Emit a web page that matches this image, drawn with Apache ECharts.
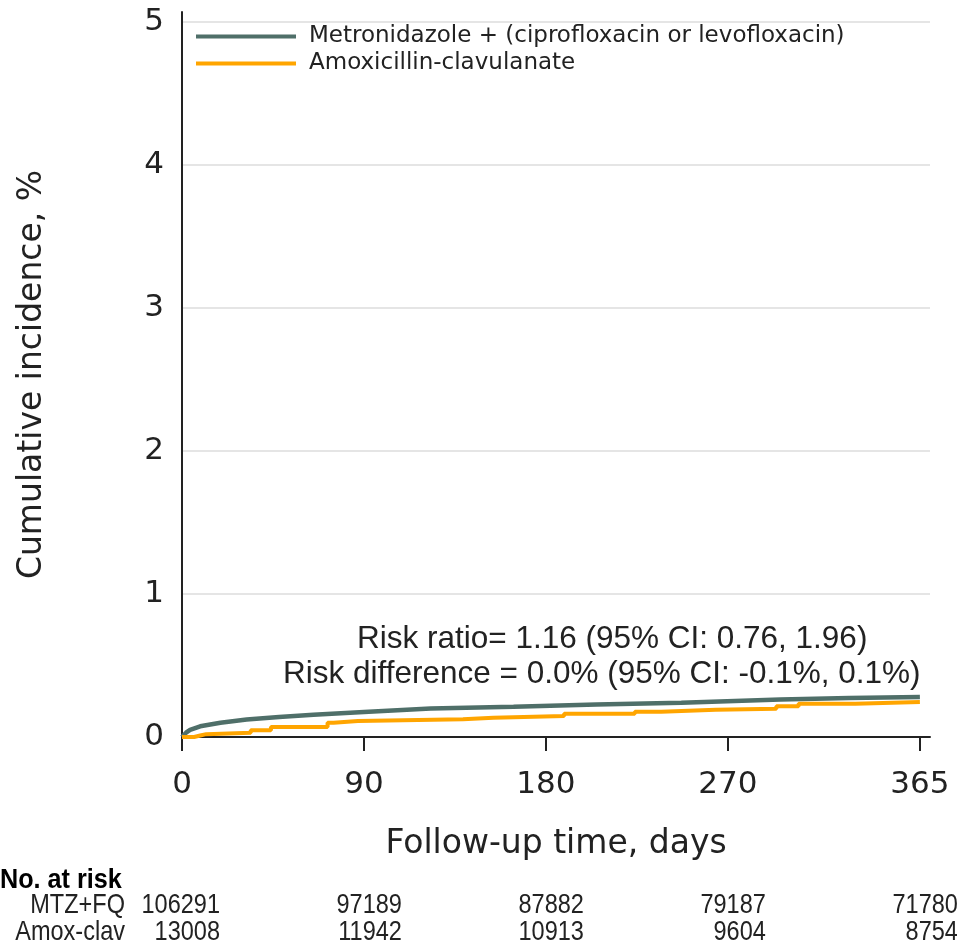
<!DOCTYPE html>
<html>
<head>
<meta charset="utf-8">
<script src="https://cdn.jsdelivr.net/npm/echarts@6/dist/echarts.min.js"></script>
<style>
  html, body { margin: 0; padding: 0; background: #fff; }
  #main { width: 957px; height: 944px; }
</style>
</head>
<body>
<div id="main"></div>
<script>
// cumulative incidence (%) by follow-up day
const mtzFq = [
  [0, 0], [2, 0.03], [4, 0.05], [9, 0.075], [19, 0.1], [32, 0.122], [48, 0.14],
  [65, 0.155], [90, 0.175], [123, 0.2], [164, 0.212], [205, 0.228], [247, 0.24],
  [296, 0.262], [330, 0.272], [365, 0.28]
];
const amoxClav = [
  [0, 0], [6, 0.01], [9, 0.02], [12, 0.03], [34, 0.047], [44, 0.07], [72, 0.1],
  [75, 0.112], [87, 0.124], [139, 0.135], [154, 0.147], [189, 0.163], [224, 0.177],
  [237, 0.19], [264, 0.197], [294, 0.215], [305, 0.232], [333, 0.245], [365, 0.245]
];
const seriesNames = ['Metronidazole + (ciprofloxacin or levofloxacin)', 'Amoxicillin-clavulanate'];
const xTicks = [0, 90, 180, 270, 365];
const riskRows = ['MTZ+FQ', 'Amox-clav'];
const riskMtzFq = [106291, 97189, 87882, 79187, 71780];
const riskAmoxClav = [13008, 11942, 10913, 9604, 8754];
const statLines = [
  'Risk ratio= 1.16 (95% CI: 0.76, 1.96)',
  'Risk difference = 0.0% (95% CI: -0.1%, 0.1%)'
];

const chartDom = document.getElementById('main');
const myChart = echarts.init(chartDom, null, { renderer: 'canvas' });
const font = 'DejaVu Sans';
const tableFont = '"Liberation Sans", Arial, sans-serif';

let option = {
  animation: false,
  color: ['#4f6f69', '#ffa500'],
  grid: { left: 182, right: 27, top: 12, bottom: 207 },
  legend: {
    orient: 'vertical',
    left: 196,
    top: 25,
    padding: 0,
    itemGap: 4,
    itemWidth: 100,
    itemHeight: 4,
    icon: 'rect',
    data: seriesNames,
    textStyle: { fontFamily: font, fontSize: 23, color: '#222', padding: [0, 0, 0, 8] }
  },
  xAxis: {
    type: 'value',
    min: 0,
    max: 370,
    interval: 90,
    name: 'Follow-up time, days',
    nameLocation: 'middle',
    nameGap: 91,
    nameTextStyle: { fontFamily: font, fontSize: 33, color: '#222' },
    axisLine: { lineStyle: { color: '#222', width: 2 } },
    axisTick: { show: true, length: 14, lineStyle: { color: '#222', width: 2 }, customValues: xTicks },
    axisLabel: { fontFamily: font, fontSize: 31, color: '#222', margin: 32, customValues: xTicks },
    splitLine: { show: false }
  },
  yAxis: {
    type: 'value',
    min: 0,
    max: 5.07,
    interval: 1,
    name: 'Cumulative incidence, %',
    nameLocation: 'middle',
    nameGap: 133,
    nameTextStyle: { fontFamily: font, fontSize: 33, color: '#222' },
    axisLine: { show: true, lineStyle: { color: '#222', width: 2 } },
    axisTick: { show: false },
    axisLabel: {
      fontFamily: font, fontSize: 31, color: '#222', margin: 18, showMaxLabel: false,
      formatter: v => (Number.isInteger(v) ? String(v) : '')
    },
    splitLine: {
      show: true,
      lineStyle: { color: ['#dcdcdc', '#dcdcdc', '#dcdcdc', '#dcdcdc', '#dcdcdc', '#dcdcdc', 'rgba(0,0,0,0)'], width: 1.5 }
    }
  },
  series: [
    {
      name: seriesNames[0],
      type: 'line',
      data: mtzFq,
      showSymbol: false,
      lineStyle: { width: 4.5 }
    },
    {
      name: seriesNames[1],
      type: 'line',
      step: 'end',
      data: amoxClav,
      showSymbol: false,
      lineStyle: { width: 4 }
    }
  ]
};
myChart.setOption(option);

// stat annotation + number at risk table
const graphics = [];
const statLeft = [357, 283];
statLines.forEach((t, i) => {
  graphics.push({
    type: 'text', left: statLeft[i], top: 623 + i * 35,
    style: { text: t, fontFamily: '"Liberation Sans", Arial, sans-serif', fontSize: 31.5, fill: '#222' }
  });
});
graphics.push({
  type: 'text', x: 0, y: 866, scaleX: 0.9,
  style: { text: 'No. at risk', fontFamily: tableFont, fontSize: 28, fontWeight: 'bold', fill: '#000' }
});
[riskMtzFq, riskAmoxClav].forEach((row, r) => {
  const y = 891 + r * 27;
  graphics.push({
    type: 'text', x: 125, y: y, scaleX: 0.84,
    style: { text: riskRows[r], fontFamily: tableFont, fontSize: 28, fill: '#222', align: 'right' }
  });
  row.forEach((n, i) => {
    const px = myChart.convertToPixel({ xAxisIndex: 0 }, xTicks[i]);
    graphics.push({
      type: 'text', x: px + 38, y: y, scaleX: 0.84,
      style: { text: String(n), fontFamily: tableFont, fontSize: 28, fill: '#222', align: 'right' }
    });
  });
});
myChart.setOption({ graphic: graphics });
</script>
</body>
</html>
